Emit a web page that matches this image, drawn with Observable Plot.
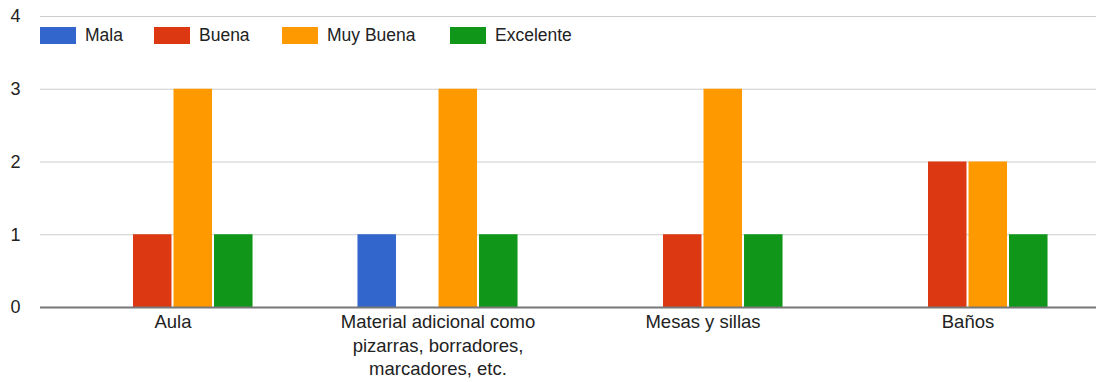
<!DOCTYPE html>
<html><head><meta charset="utf-8">
<script src="https://cdn.jsdelivr.net/npm/d3@7"></script>
<script src="https://cdn.jsdelivr.net/npm/@observablehq/plot@0.6"></script>
<style>
html,body{margin:0;padding:0;background:#fff;overflow:hidden}
#wrap{position:relative;width:1096px;height:382px;overflow:hidden;font-family:"Liberation Sans",Arial,sans-serif}
#legend{position:absolute;left:40px;top:27px;font-size:17.5px;color:#222}
.item{display:flex;align-items:center;position:absolute;top:0;white-space:nowrap;height:17px}
.sw{width:36px;height:17px;margin-right:9px}
</style></head><body>
<div id="wrap"><div id="legend"></div></div>
<script>
const categories = ["Aula", "Material adicional como pizarras, borradores, marcadores, etc.", "Mesas y sillas", "Baños"];
const categoryLabels = ["Aula", "Material adicional como\npizarras, borradores,\nmarcadores, etc.", "Mesas y sillas", "Baños"];
const series = ["Mala", "Buena", "Muy Buena", "Excelente"];
const colors = ["#3366cc", "#dc3912", "#ff9900", "#109618"];
const mala = [0, 1, 0, 0];
const buena = [1, 0, 1, 2];
const muyBuena = [3, 3, 3, 2];
const excelente = [1, 1, 1, 1];
const yTicks = [0, 1, 2, 3, 4];

const values = [mala, buena, muyBuena, excelente];
const data = [];
categories.forEach((c, i) => series.forEach((s, j) => data.push({cat: c, serie: s, value: values[j][i]})));

const chart = Plot.plot({
  width: 1100, height: 382,
  marginLeft: 40, marginRight: 0, marginTop: 16, marginBottom: 75,
  style: {fontFamily: "'Liberation Sans', Arial, sans-serif", fontSize: "16px", color: "#222", background: "#fff", overflow: "visible", maxWidth: "none"},
  fx: {domain: categories, padding: 0, round: false, label: null},
  x: {domain: series, paddingInner: 0.05, paddingOuter: 1.295, round: false, axis: null},
  y: {domain: [0, 4], label: null},
  color: {domain: series, range: colors},
  marks: [
    Plot.gridY(yTicks, {stroke: "#ccc", strokeOpacity: 1, strokeWidth: 1}),
    Plot.axisY(yTicks, {tickSize: 0, tickPadding: 20, textAnchor: "end", fill: "#222", fontSize: 18, label: null, tickFormat: d3.format("d")}),
    Plot.barY(data.filter(d => d.value > 0), {fx: "cat", x: "serie", y: "value", fill: "serie"}),
    Plot.ruleY([0], {stroke: "#777", strokeWidth: 2}),
    Plot.axisFx({anchor: "bottom", tickSize: 0, tickPadding: 4, fontSize: 18.5, fill: "#222", lineHeight: 1.27, label: null,
      tickFormat: d => categoryLabels[categories.indexOf(d)]})
  ]
});
const wrap = document.getElementById("wrap");
wrap.insertBefore(chart, wrap.firstChild);
chart.style.position = "absolute"; chart.style.left = "0"; chart.style.top = "0"; chart.style.maxWidth = "none";
const legend = document.getElementById("legend");
const lefts = [0, 114, 242, 410];
series.forEach((s, i) => {
  const it = document.createElement("div"); it.className = "item";
  it.style.left = lefts[i] + "px";
  it.innerHTML = `<span class="sw" style="background:${colors[i]}"></span><span>${s}</span>`;
  legend.appendChild(it);
});
</script>
</body></html>
